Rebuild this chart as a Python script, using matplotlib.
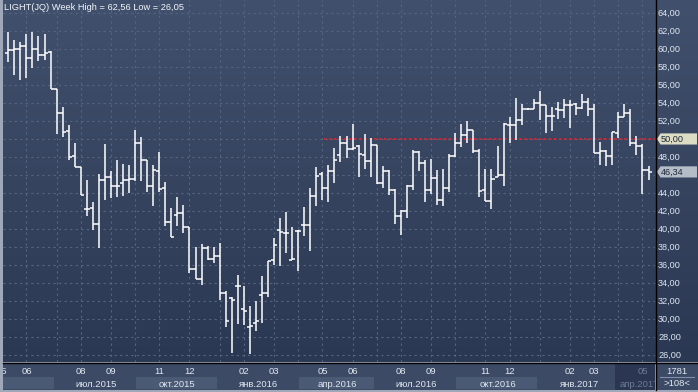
import numpy as np
import matplotlib.pyplot as plt
from matplotlib.patches import Rectangle, Polygon
from matplotlib.colors import LinearSegmentedColormap

plt.rcParams['font.family'] = ['Liberation Sans', 'DejaVu Sans']

title = "LIGHT(JQ) Week High = 62,56 Low = 26,05"

# weekly OHLC
opens = [59.5, 59.9, 60.0, 60.3, 59.0, 60.0, 59.3, 59.7, 55.5, 52.9,
         50.9, 48.1, 46.9, 42.2, 42.3, 40.5, 45.4, 45.8, 44.8, 45.1,
         45.4, 45.6, 49.5, 47.7, 44.8, 46.4, 44.5, 40.8, 41.6, 41.8,
         40.2, 35.5, 34.4, 37.9, 36.7, 37.0, 32.9, 32.3, 33.7, 31.1,
         29.1, 29.6, 32.7, 32.9, 36.6, 39.9, 39.6, 36.6, 39.8, 40.4,
         40.4, 43.7, 46.1, 44.6, 46.4, 48.2, 49.6, 48.9, 49.2, 48.2,
         47.6, 49.3, 45.1, 46.4, 44.3, 41.4, 42.0, 44.8, 48.5, 47.3,
         44.3, 45.7, 43.2, 44.6, 48.1, 49.6, 50.4, 51.0, 48.7, 44.3,
         43.1, 45.8, 46.0, 51.6, 51.6, 52.1, 53.3, 53.3, 54.0, 53.8,
         52.6, 53.3, 53.2, 53.8, 53.9, 53.4, 54.1, 53.3, 48.4, 48.7,
         48.1, 50.7, 52.4, 52.9, 49.6, 49.2, 46.5]
highs = [61.9, 61.0, 60.8, 61.7, 61.9, 61.4, 61.7, 59.8, 55.5, 53.5,
         51.6, 49.5, 46.9, 45.4, 43.0, 46.1, 49.4, 46.4, 47.7, 47.2,
         47.1, 51.0, 50.2, 47.7, 47.1, 48.5, 45.2, 42.3, 43.5, 42.7,
         40.2, 38.0, 38.3, 38.1, 38.0, 38.4, 33.1, 32.4, 34.9, 33.7,
         31.4, 32.0, 34.8, 36.4, 39.0, 41.2, 41.9, 40.2, 39.9, 42.4,
         44.5, 46.9, 46.3, 47.1, 49.0, 50.3, 50.3, 51.7, 49.3, 50.6,
         50.1, 49.3, 47.0, 46.5, 44.4, 42.1, 44.9, 48.8, 48.7, 47.7,
         47.8, 46.6, 46.7, 48.3, 50.7, 51.7, 52.0, 51.0, 48.9, 46.7,
         46.7, 49.2, 51.8, 52.4, 54.5, 53.9, 53.4, 54.4, 55.3, 53.8,
         53.5, 54.1, 54.4, 54.3, 54.0, 55.0, 54.6, 53.9, 49.7, 48.8,
         50.8, 53.0, 53.9, 53.3, 50.3, 49.4, 47.0]
lows = [58.5, 57.1, 56.5, 56.8, 57.9, 58.7, 58.8, 55.5, 50.6, 50.2,
        47.7, 46.9, 43.8, 41.4, 39.9, 37.9, 43.2, 43.4, 43.6, 43.7,
        44.0, 45.3, 45.3, 44.1, 42.6, 44.1, 40.3, 39.1, 40.3, 39.6,
        35.1, 34.4, 33.8, 36.6, 36.2, 32.1, 29.1, 26.2, 29.4, 29.3,
        26.1, 28.7, 29.5, 32.4, 36.0, 35.9, 37.3, 36.6, 35.3, 39.2,
        37.6, 42.5, 43.2, 43.0, 45.1, 47.4, 47.9, 48.8, 45.8, 46.7,
        45.8, 45.0, 44.5, 43.8, 40.6, 39.3, 41.2, 44.3, 46.4, 43.0,
        43.9, 42.7, 42.6, 44.1, 48.0, 49.1, 49.5, 48.4, 43.6, 43.1,
        42.2, 45.8, 44.8, 49.6, 49.9, 51.5, 53.2, 53.3, 52.1, 50.7,
        50.9, 52.2, 52.3, 51.2, 52.7, 53.3, 52.6, 48.4, 47.1, 47.0,
        47.1, 50.1, 52.4, 49.2, 48.2, 43.9, 45.4]
closes = [59.9, 60.0, 60.3, 59.0, 60.0, 59.3, 59.5, 55.5, 52.9, 50.8,
          48.0, 46.9, 43.8, 42.2, 40.5, 45.4, 45.8, 44.8, 44.8, 45.4,
          45.6, 49.5, 47.7, 44.8, 46.6, 44.4, 40.8, 39.1, 41.8, 40.2,
          35.5, 34.4, 37.9, 36.7, 37.0, 32.9, 29.8, 32.1, 33.7, 30.9,
          29.2, 29.8, 32.9, 36.4, 38.2, 39.7, 39.5, 36.7, 39.8, 40.4,
          43.7, 45.9, 44.6, 46.4, 47.7, 49.6, 48.9, 49.0, 48.3, 47.6,
          49.3, 45.1, 46.4, 44.3, 41.4, 42.0, 44.8, 48.5, 47.3, 44.3,
          45.7, 43.2, 44.6, 48.1, 49.6, 50.4, 51.0, 48.7, 44.2, 43.1,
          45.5, 46.0, 51.7, 51.6, 52.1, 53.3, 53.3, 54.0, 53.8, 52.5,
          52.5, 53.2, 53.8, 53.8, 53.4, 54.1, 53.3, 48.4, 48.7, 48.1,
          50.8, 52.4, 52.9, 49.6, 49.2, 46.5, 46.34]

# month starts (bar index) and their labels
month_pos = [-1, 3, 8, 12, 17, 21, 25, 30, 35, 39, 44, 48, 52,
             57, 61, 65, 70, 74, 79, 83, 88, 93, 97, 101, 105]
month_labels = ["05", "06", "", "08", "09", "", "11", "12", "", "02", "03", "", "05",
                "06", "", "08", "09", "", "11", "12", "", "02", "03", "", "05"]
quarter_pos = [-1, 8, 21, 35, 48, 61, 74, 88, 101, 114]
quarter_labels = ["", "июл.2015", "окт.2015", "янв.2016", "апр.2016",
                  "июл.2016", "окт.2016", "янв.2017", "апр.2017"]
price_ticks = list(range(26, 65, 2))
level_price = 50.0
last_price = 46.34
tick_count = "1781"
bars_shown = ">108<"

W, H = 698, 392
fig = plt.figure(figsize=(W / 100, H / 100), dpi=100, facecolor='#9ea8b8')


def px_axes(x0, y0, x1, y1):
    return fig.add_axes([x0 / W, 1 - y1 / H, (x1 - x0) / W, (y1 - y0) / H])


xlim = (-0.877, 107.07)
ylim = (25.22, 65.44)

# background gradient
bg = px_axes(3, 0, 698, 362)
grad = np.linspace(0, 1, 256).reshape(-1, 1)
cmap = LinearSegmentedColormap.from_list('bg', ['#41506c', '#2b3854'])
bg.imshow(grad, aspect='auto', cmap=cmap, extent=(0, 1, 0, 1))
bg.set_axis_off()

ax = px_axes(3, 0, 655, 362)
ax.set_facecolor('none')
ax.set_xlim(*xlim)
ax.set_ylim(*ylim)
for s in ax.spines.values():
    s.set_visible(False)
ax.set_xticks([])
ax.set_yticks([])

for p in price_ticks:
    ax.axhline(p, color='#56657f', lw=0.8, ls=(0, (2, 3)), zorder=1)
for m in month_pos:
    ax.axvline(m, color='#56657f', lw=0.8, ls=(0, (2, 3)), zorder=1)

idx = np.arange(len(closes))
ax.vlines(idx, lows, highs, color='white', lw=1.1, zorder=3)
ax.hlines(opens, idx - 0.5, idx, color='white', lw=1.1, zorder=3)
ax.hlines(closes, idx, idx + 0.5, color='white', lw=1.1, zorder=3)

ax.plot([52.2, xlim[1]], [level_price, level_price], color='#e8202a',
        lw=1.2, ls=(0, (1.5, 1.5)), zorder=2)

ax.text(0.002, 0.978, title, transform=ax.transAxes, ha='left', va='center',
        fontsize=6.7, color='#f0f4f8', zorder=5)

# right price scale
rax = px_axes(656, 0, 698, 362)
rax.set_facecolor('none')
rax.set_xlim(0, 42)
rax.set_ylim(*ylim)
rax.set_axis_off()
for p in price_ticks:
    # labels hidden under the price tags
    if abs(p - level_price) < 1.3 or abs(p - last_price) < 1.3:
        continue
    rax.text(2, p, f"{p},00", ha='left', va='center', fontsize=6.6, color='#dde6f0')


def tag(v, label, fill):
    h = 0.62
    rax.add_patch(Polygon([(1, v), (4.5, v + h), (41, v + h), (41, v - h), (4.5, v - h)],
                          closed=True, facecolor=fill, edgecolor='none', zorder=4))
    rax.text(5, v, label, ha='left', va='center', fontsize=6.6, color='#1e2638', zorder=5)


tag(level_price, f"{level_price:.2f}".replace('.', ','), '#dcdcc4')
tag(last_price, f"{last_price:.2f}".replace('.', ','), '#b4bcc8')

# separators
fig.add_artist(plt.Line2D([655.5 / W] * 2, [1 - 390 / H, 1], color='black', lw=1.0))
fig.add_artist(plt.Line2D([3 / W, 1], [1 - 362.5 / H] * 2, color='black', lw=1.0))

# bottom date scale
bax = px_axes(3, 363, 655, 390)
bax.set_facecolor('#3c4a66')
bax.set_xlim(*xlim)
bax.set_ylim(0, 1)
bax.set_xticks([])
bax.set_yticks([])
for s in bax.spines.values():
    s.set_visible(False)
for i in range(len(quarter_labels)):
    a, b = quarter_pos[i], quarter_pos[i + 1]
    if i == len(quarter_labels) - 1:
        bax.add_patch(Rectangle((a - 0.5, 0), b - a, 1, facecolor='#2b3652',
                                edgecolor='none', zorder=1))
    elif i % 2 == 0:
        bax.add_patch(Rectangle((a + 0.2, 0.04), b - a - 0.6, 0.44, facecolor='#4a5974',
                                edgecolor='none', zorder=1))
    if quarter_labels[i]:
        c = (a + min(b, 108)) / 2
        col = '#6e7c98' if i == len(quarter_labels) - 1 else '#e0e8f0'
        bax.text(c, 0.22, quarter_labels[i], ha='center', va='center', fontsize=6.8,
                 color=col, zorder=3, clip_on=True)
for m, lab in zip(month_pos, month_labels):
    if lab:
        col = '#6e7c98' if m >= 101 else '#e0e8f0'
        bax.text(m, 0.68, lab, ha='center', va='center', fontsize=6.8,
                 color=col, zorder=3, clip_on=True)

# corner box
cax = px_axes(656, 363, 698, 390)
cax.set_xlim(0, 42)
cax.set_ylim(0, 27)
cax.set_axis_off()
cax.add_patch(Rectangle((0, 0), 42, 27, facecolor='#3c4a66', edgecolor='none'))
cax.text(21, 18, tick_count, ha='center', va='center', fontsize=6.8, color='#e0e8f0')
cax.plot([4, 38], [13, 13], color='#8090aa', lw=0.8)
cax.text(21, 6, bars_shown, ha='center', va='center', fontsize=6.8, color='#e0e8f0')

fig.savefig('out.png', dpi=100, facecolor=fig.get_facecolor())
